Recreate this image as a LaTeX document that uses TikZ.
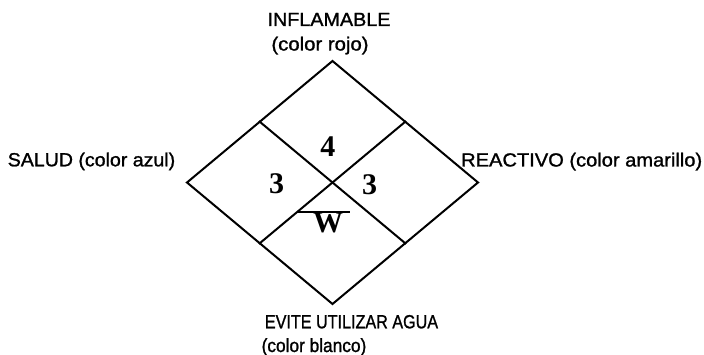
\documentclass[tikz,border=0pt]{standalone}
\usepackage{fontspec}
\usetikzlibrary{calc}
\setmainfont{Liberation Sans}
\newfontfamily\labelfont{Liberation Sans}[FakeBold=1.2]
\newfontfamily\numfont{Liberation Serif}
\newcommand{\stretchtext}[2]{\scalebox{#1}[1]{#2}}
\begin{document}
\begin{tikzpicture}[x=1pt,y=-1pt,
    edge/.style={line width=2pt,line join=miter,line cap=rect},
    label/.style={font=\labelfont\fontsize{19}{21}\selectfont,inner sep=0pt,anchor=base},
    rating/.style={font=\numfont\bfseries\fontsize{30}{31}\selectfont,inner sep=0pt}]
  \useasboundingbox (0,0) rectangle (704,355);

  % outer corners of the diamond
  \coordinate (top) at (332.5,61);
  \coordinate (lft) at (187,182.5);
  \coordinate (rgt) at (478,182.5);
  \coordinate (bot) at (332.5,304);
  % midpoints of the four sides
  \coordinate (ul) at ($(top)!0.5!(lft)$);
  \coordinate (ur) at ($(top)!0.5!(rgt)$);
  \coordinate (ll) at ($(bot)!0.5!(lft)$);
  \coordinate (lr) at ($(bot)!0.5!(rgt)$);

  \draw[edge] (top) -- (rgt) -- (bot) -- (lft) -- cycle;
  \draw[edge] (ul) -- (lr);
  \draw[edge] (ur) -- (ll);

  % hazard ratings
  \node[rating] (fire)  at (327.8,147) {4};
  \node[rating] (health) at (276.7,184) {3};
  \node[rating] (react) at (369.7,184.5) {3};
  \node[rating] (water) at (328,223.3) {W};
  \coordinate (barL) at (298.3,211.7);
  \coordinate (barR) at (350,211.7);
  \draw[line width=2pt] (barL) -- (barR);

  % captions
  \node[label] (t1) at (329,26) {\stretchtext{1.04}{INFLAMABLE}};
  \node[label] (t2) at (320,50.5) {\stretchtext{1.07}{(color rojo)}};
  \node[label] (t3) at (91.5,166.3) {\stretchtext{1.03}{SALUD (color azul)}};
  \node[label] (t4) at (581.7,166.5) {\stretchtext{1.057}{REACTIVO (color amarillo)}};
  \node[label] (t5) at (351.5,328.3) {\stretchtext{0.85}{EVITE UTILIZAR AGUA}};
  \node[label] (t6) at (314,352) {\stretchtext{0.91}{(color blanco)}};
\end{tikzpicture}
\end{document}
